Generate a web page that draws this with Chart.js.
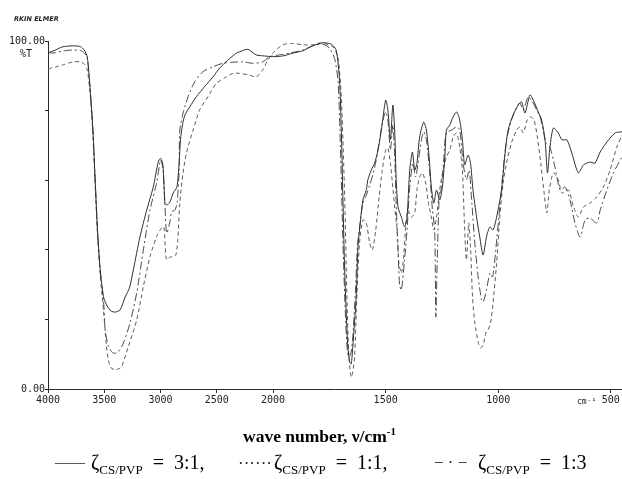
<!DOCTYPE html>
<html>
<head>
<meta charset="utf-8">
<script src="https://cdn.jsdelivr.net/npm/chart.js@4.4.1/dist/chart.umd.min.js"></script>
<style>
  body { margin: 0; background: #fff; }
  #wrap { position: relative; width: 622px; height: 479px; overflow: hidden; }
  #ir { position: absolute; left: 0; top: 0; }
  .ttl { position: absolute; left: 243px; top: 425px; font: bold 17.5px "Liberation Serif", serif; color: #000; white-space: nowrap; }
  .ttl sup { font-size: 11px; }
  .leg { position: absolute; top: 451px; font: 20px "Liberation Serif", serif; color: #000; white-space: pre; }
  .leg sub { font-size: 13px; }
  .smp { position: absolute; top: 451px; font: 20px "Liberation Serif", serif; color: #222; white-space: pre; }
</style>
</head>
<body>
<div id="wrap">
  <canvas id="ir" width="622" height="479"></canvas>
  <div class="ttl">wave number, ν/cm<sup>-1</sup></div>
  <div class="smp" style="left:55px;font-size:15px;top:454px">——</div>
  <div class="leg" style="left:91px">ζ<sub>CS/PVP</sub>  =  3:1,</div>
  <div class="smp" style="left:238px;font-size:17px;top:454px">······</div>
  <div class="leg" style="left:274px">ζ<sub>CS/PVP</sub>  =  1:1,</div>
  <div class="smp" style="left:434px;font-size:17px;top:453px">− · −</div>
  <div class="leg" style="left:478px">ζ<sub>CS/PVP</sub>  =  1:3</div>
</div>
<script>
// wave numbers on the axis (the spectrometer doubles the scale below 2000)
const xTicks = [4000, 3500, 3000, 2500, 2000, 1500, 1000, 500];
const yTicks = [0, 20, 40, 60, 80, 100];

// [wave number cm-1, %T]
const ratio31 = [[4000,96.6],[3935,97.4],[3873,98.3],[3784,98.6],[3713,98.4],[3678,97.4],[3651,95.4],[3625,85.9],[3601,74.4],[3581,60.1],[3560,45.7],[3536,34.2],[3507,26.5],[3475,23.9],[3439,22.4],[3404,22.1],[3360,22.7],[3315,26.4],[3277,29.0],[3242,34.2],[3183,43.7],[3123,51.4],[3065,58.0],[3021,65.2],[3000,66.3],[2979,64.4],[2961,53.4],[2946,52.9],[2917,53.7],[2888,56.3],[2855,58.0],[2835,64.9],[2823,71.6],[2805,75.9],[2784,78.7],[2740,81.1],[2681,84.0],[2608,86.9],[2534,89.7],[2475,92.2],[2402,94.5],[2327,96.5],[2298,96.9],[2225,97.6],[2150,96.0],[2077,95.7],[2003,95.5],[1957,95.7],[1913,96.5],[1868,97.2],[1824,98.6],[1779,99.5],[1742,99.1],[1720,97.4],[1705,88.8],[1697,74.4],[1690,55.2],[1683,36.2],[1675,21.8],[1668,12.1],[1660,7.8],[1653,7.2],[1646,12.1],[1631,26.4],[1623,40.8],[1616,45.7],[1601,54.3],[1586,57.2],[1579,60.1],[1564,62.9],[1549,64.9],[1534,68.7],[1519,74.4],[1500,83.0],[1490,80.2],[1479,71.6],[1468,81.6],[1460,74.4],[1453,60.1],[1445,52.3],[1430,49.4],[1416,46.6],[1405,49.4],[1393,62.9],[1381,68.1],[1371,62.9],[1361,64.9],[1349,72.4],[1331,76.7],[1319,74.4],[1307,66.7],[1297,58.0],[1286,53.4],[1274,57.2],[1260,54.3],[1248,58.0],[1237,66.7],[1230,74.4],[1215,75.9],[1200,78.2],[1185,79.6],[1171,77.3],[1159,71.6],[1149,64.4],[1134,67.2],[1123,64.9],[1112,57.2],[1096,49.4],[1082,43.7],[1067,38.5],[1052,43.7],[1037,46.6],[1023,45.7],[1007,49.4],[985,57.2],[971,66.7],[956,74.4],[934,78.7],[911,81.6],[896,82.5],[881,79.3],[859,84.5],[844,83.0],[822,79.6],[807,77.3],[792,71.6],[781,62.1],[770,69.5],[755,75.0],[733,73.6],[717,71.6],[695,71.6],[673,67.8],[644,62.1],[621,64.4],[592,65.2],[570,64.9],[547,68.1],[517,71.0],[480,73.6],[450,73.9]];

const ratio11 = [[4000,92.0],[3935,92.5],[3873,93.1],[3775,94.0],[3713,94.0],[3678,93.4],[3651,91.7],[3625,84.5],[3601,73.0],[3581,58.6],[3560,44.3],[3536,32.8],[3507,22.7],[3477,11.2],[3448,6.4],[3404,5.5],[3360,6.0],[3345,6.4],[3286,12.2],[3212,19.8],[3153,29.4],[3094,38.0],[3035,43.8],[2991,46.3],[2970,46.6],[2953,38.0],[2941,37.1],[2917,37.9],[2888,38.0],[2864,38.5],[2847,42.8],[2829,53.4],[2800,62.1],[2770,67.8],[2711,74.4],[2652,80.2],[2578,84.0],[2504,87.8],[2416,89.7],[2357,90.7],[2298,90.7],[2210,90.2],[2150,89.7],[2092,91.7],[2048,94.5],[2003,96.5],[1957,98.9],[1913,99.3],[1868,98.9],[1824,98.9],[1794,99.4],[1764,99.1],[1734,98.3],[1712,95.4],[1697,83.9],[1682,55.2],[1672,26.4],[1663,9.2],[1653,3.4],[1646,4.9],[1638,9.2],[1628,26.4],[1616,42.0],[1601,48.6],[1586,47.7],[1571,42.0],[1559,39.9],[1544,45.7],[1529,55.2],[1515,62.9],[1500,68.7],[1490,69.3],[1479,64.9],[1470,59.2],[1460,52.3],[1449,45.7],[1441,36.2],[1430,33.3],[1420,37.9],[1411,46.6],[1401,51.4],[1386,49.4],[1371,50.6],[1361,57.2],[1349,60.9],[1337,62.1],[1322,59.2],[1312,54.3],[1297,49.4],[1286,45.7],[1274,49.4],[1260,57.2],[1245,62.9],[1230,66.7],[1215,68.7],[1200,72.4],[1185,73.6],[1171,69.5],[1159,62.9],[1149,45.7],[1141,37.1],[1131,47.7],[1123,40.8],[1114,26.4],[1104,19.0],[1088,13.2],[1078,11.8],[1067,12.6],[1055,16.1],[1045,17.0],[1034,19.0],[1023,24.7],[1007,36.2],[993,49.4],[978,59.2],[963,64.9],[941,70.7],[918,74.4],[904,75.3],[889,73.6],[871,77.3],[856,78.2],[841,77.3],[826,72.4],[811,64.9],[796,56.3],[784,50.6],[773,57.2],[755,62.1],[733,60.1],[717,56.3],[688,57.2],[665,52.3],[644,49.4],[621,52.3],[592,53.4],[562,55.2],[533,58.0],[503,62.9],[473,69.5],[450,73.0]];

const ratio13 = [[4000,96.6],[3935,96.6],[3873,97.1],[3784,97.4],[3713,97.3],[3678,96.6],[3651,95.1],[3625,85.9],[3601,74.4],[3581,60.1],[3560,45.7],[3536,34.2],[3507,25.6],[3492,17.0],[3463,12.2],[3419,10.3],[3375,10.7],[3330,13.2],[3271,19.0],[3212,27.6],[3153,39.9],[3094,51.4],[3035,59.2],[3000,65.8],[2979,63.5],[2961,52.9],[2946,44.8],[2917,48.0],[2902,50.9],[2873,51.4],[2853,53.4],[2835,62.9],[2829,74.4],[2800,79.3],[2755,84.0],[2696,88.3],[2623,91.2],[2534,92.6],[2446,93.6],[2357,93.9],[2269,94.0],[2180,93.6],[2092,94.0],[2033,95.5],[1972,96.0],[1927,96.5],[1868,97.4],[1824,98.6],[1779,99.1],[1749,97.9],[1727,95.0],[1712,88.8],[1703,74.4],[1695,55.2],[1687,36.2],[1679,21.8],[1672,12.6],[1665,9.2],[1656,9.8],[1647,14.1],[1634,28.4],[1625,41.4],[1616,46.3],[1601,53.4],[1586,55.7],[1571,58.6],[1557,61.5],[1542,65.8],[1527,71.6],[1512,77.3],[1500,79.6],[1490,77.3],[1479,68.7],[1468,75.9],[1460,67.2],[1453,52.9],[1445,39.9],[1438,29.9],[1430,28.4],[1416,37.1],[1405,45.7],[1393,58.0],[1379,64.9],[1367,60.9],[1356,64.9],[1341,71.6],[1331,73.9],[1319,71.6],[1304,62.1],[1292,51.4],[1282,45.7],[1277,20.7],[1271,36.2],[1262,55.2],[1254,57.2],[1243,64.9],[1231,73.6],[1207,74.4],[1185,75.3],[1171,74.4],[1156,64.9],[1141,60.1],[1129,62.9],[1119,55.2],[1104,42.0],[1089,32.2],[1074,25.6],[1067,25.0],[1052,28.4],[1037,33.3],[1025,32.2],[1011,39.9],[993,52.3],[978,62.9],[963,71.6],[941,77.3],[918,81.0],[904,82.2],[889,80.2],[867,83.9],[852,83.0],[829,80.2],[814,78.2],[800,74.4],[788,70.7],[770,69.5],[748,63.8],[725,57.2],[703,58.0],[681,54.3],[659,47.7],[636,43.7],[614,48.6],[592,49.1],[562,47.7],[547,51.4],[517,57.2],[488,62.1],[450,66.7]];

// linear scale with the 2:1 scale change at 2000 cm-1
class WaveScale extends Chart.LinearScale {
    toDecimal(v) {
        const u = v >= 2000 ? 4000 - v : 2000 + 2 * (2000 - v);
        return u / 5100;
    }
    getPixelForValue(v) {
        if (v === null || v === undefined) return NaN;
        return this.getPixelForDecimal(this.toDecimal(v));
    }
    getValueForPixel(p) {
        const u = this.getDecimalForPixel(p) * 5100;
        return u <= 2000 ? 4000 - u : 2000 - (u - 2000) / 2;
    }
}
WaveScale.id = "wave";
WaveScale.defaults = Chart.LinearScale.defaults;
Chart.register(WaveScale);

const ink = "#2a2a2a";
const toPts = (arr) => arr.map(([x, y]) => ({ x, y }));

const extraText = {
    id: "extraText",
    afterDraw(chart) {
        const c = chart.ctx;
        c.save();
        c.fillStyle = "#222";
        c.textBaseline = "middle";
        c.font = "italic bold 6.5px 'DejaVu Sans'";
        c.fillText("RKIN ELMER", 14, 19);
        c.font = "10px 'DejaVu Sans Mono'";
        c.fillText("%T", 20, 54);
        c.font = "8px 'DejaVu Sans Mono'";
        c.fillText("cm⁻¹", 577, 402);
        c.restore();
    }
};

new Chart(document.getElementById("ir"), {
    type: "line",
    data: {
        datasets: [
            { label: "3:1", data: toPts(ratio31), borderColor: "#303030", borderWidth: 1 },
            { label: "1:1", data: toPts(ratio11), borderColor: "#5a5a5a", borderWidth: 1, borderDash: [4, 3] },
            { label: "1:3", data: toPts(ratio13), borderColor: "#4a4a4a", borderWidth: 1, borderDash: [8, 3, 2, 3] }
        ]
    },
    options: {
        responsive: false,
        animation: false,
        events: [],
        parsing: false,
        elements: {
            point: { radius: 0 },
            line: { tension: 0.25, fill: false }
        },
        layout: { padding: { top: 41, right: 0, left: 0, bottom: 0 } },
        plugins: { legend: { display: false }, tooltip: { enabled: false } },
        scales: {
            x: {
                type: "wave",
                min: 450,
                max: 4000,
                afterBuildTicks: (s) => { s.ticks = xTicks.map((v) => ({ value: v })); },
                afterFit: (s) => { s.height = 90; },
                ticks: {
                    autoSkip: false,
                    maxRotation: 0,
                    padding: 1,
                    color: "#222",
                    font: { family: "DejaVu Sans Mono", size: 10 },
                    callback: (v) => String(v)
                },
                grid: { drawOnChartArea: false, tickLength: 4, color: ink },
                border: { color: ink, width: 1 }
            },
            y: {
                min: 0,
                max: 100,
                afterBuildTicks: (s) => { s.ticks = yTicks.map((v) => ({ value: v })); },
                afterFit: (s) => { s.width = 48; },
                ticks: {
                    padding: 0,
                    color: "#222",
                    font: { family: "DejaVu Sans Mono", size: 10 },
                    callback: (v) => (v === 100 ? "100.00" : v === 0 ? "0.00" : "")
                },
                grid: { drawOnChartArea: false, tickLength: 3, color: ink },
                border: { color: ink, width: 1 }
            }
        }
    },
    plugins: [extraText]
});
</script>
</body>
</html>
